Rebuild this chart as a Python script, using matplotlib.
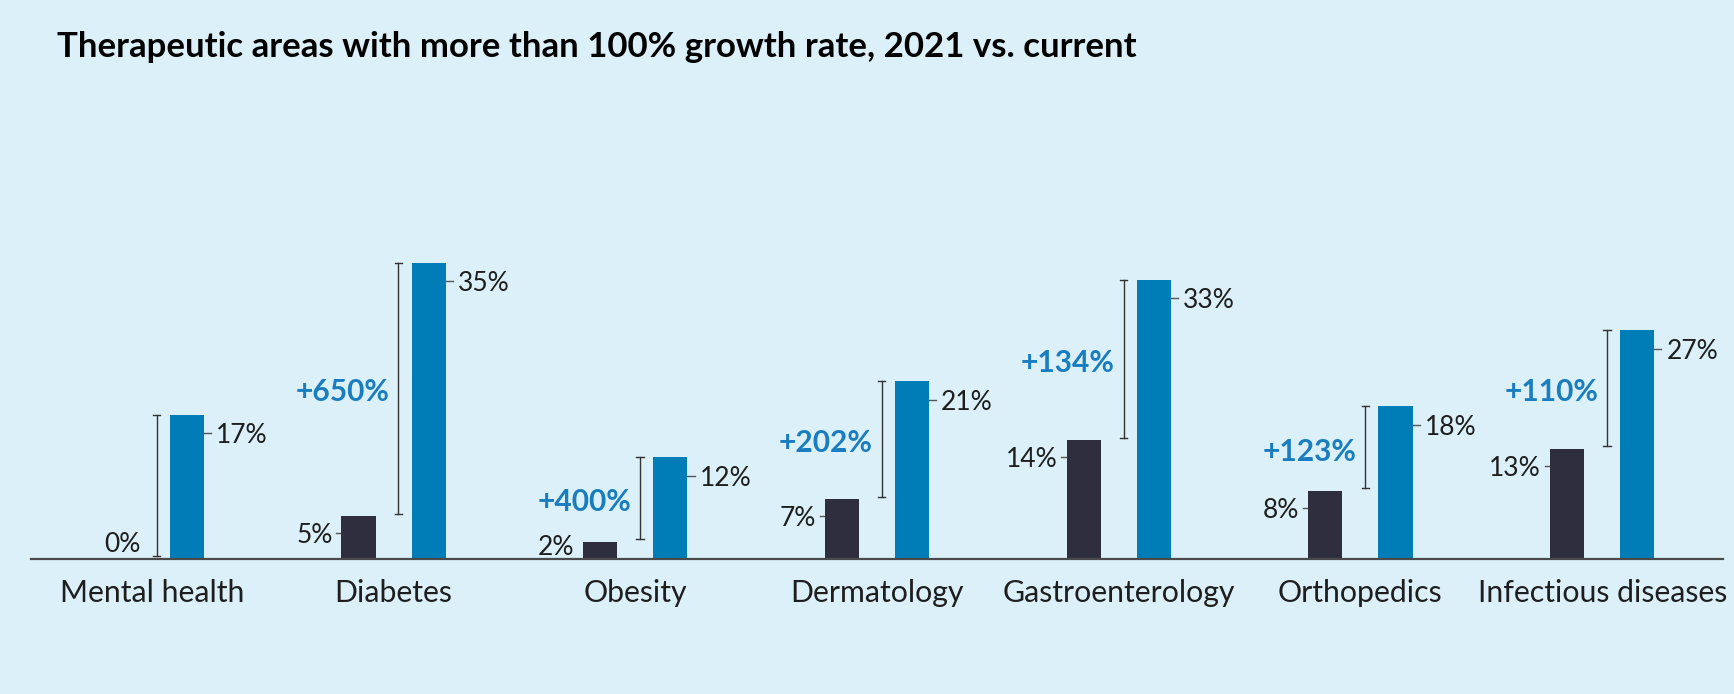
import numpy as np
import matplotlib.pyplot as plt

# データ
categories = ['Mental health', 'Diabetes', 'Obesity', 'Dermatology',
              'Gastroenterology', 'Orthopedics', 'Infectious diseases']
share_2021 = [0, 5, 2, 7, 14, 8, 13]
share_current = [17, 35, 12, 21, 33, 18, 27]
growth_labels = ['', '+650%', '+400%', '+202%', '+134%', '+123%', '+110%']

bg = '#dbf0f9'
blue = '#007cb7'
dark = '#2e2e3f'
text_col = '#1e1e1e'
plt.rcParams['font.family'] = ['Lato', 'DejaVu Sans']

fig = plt.figure(figsize=(17.34, 6.94), dpi=100, facecolor=bg)
ax = fig.add_axes([31 / 1734, 135.5 / 694, (1723 - 31) / 1734, 338 / 694])
ax.set_facecolor(bg)

x = np.arange(len(categories))
off = 0.145
w = 0.141
ax.bar(x - off, share_2021, width=w, color=dark, zorder=3)
ax.bar(x + off, share_current, width=w, color=blue, zorder=3)

ax.set_xlim(-0.5, 6.5)
ax.set_ylim(0, 40)

# ブラケットと成長率
bx = x + 0.02
cap = 0.015
for i in range(len(categories)):
    lo = share_2021[i] + 0.3
    hi = share_current[i]
    ax.plot([bx[i], bx[i]], [lo, hi], color='#333333', lw=1.0, zorder=2)
    ax.plot([bx[i] - cap, bx[i] + cap], [lo, lo], color='#333333', lw=1.0)
    ax.plot([bx[i] - cap, bx[i] + cap], [hi, hi], color='#333333', lw=1.0)
    if growth_labels[i]:
        ax.text(bx[i] - 0.037, (lo + hi) / 2 - 0.2, growth_labels[i], ha='right',
                va='center_baseline', fontsize=21.5, fontweight='bold', color='#1a7dc0')

# 値ラベル
for i in range(len(categories)):
    v = share_current[i]
    right = x[i] + off + w / 2
    y = v - 2.2
    ax.plot([right, right + 0.03], [y, y], color='#555555', lw=1.0)
    ax.text(right + 0.05, y, f'{v}%', ha='left', va='center_baseline',
            fontsize=19, color=text_col)

    v = share_2021[i]
    left = x[i] - off - w / 2
    lx = left - 0.037
    if v >= 5:
        y = v - 2.0
        ax.plot([left - 0.022, left], [y, y], color='#555555', lw=1.0)
    elif v == 0:
        y = 1.9
        lx = bx[i] - 0.065
    else:
        y = 1.6
    ax.text(lx, y, f'{v}%', ha='right', va='center_baseline',
            fontsize=19, color=text_col)

for s in ['top', 'right', 'left']:
    ax.spines[s].set_visible(False)
ax.spines['bottom'].set_color('#4a4a4a')
ax.spines['bottom'].set_linewidth(1.6)
ax.spines['bottom'].set_zorder(4)
ax.set_yticks([])
ax.set_xticks(x)
ax.set_xticklabels(categories, fontsize=21.8, color=text_col)
ax.tick_params(axis='x', length=0, pad=15)

fig.text(57 / 1734, 1 - 57 / 694, 'Therapeutic areas with more than 100% growth rate, 2021 vs. current',
         fontsize=25, fontweight='bold', color='black', va='baseline', ha='left')

fig.savefig('out.png', dpi=100, facecolor=bg)
